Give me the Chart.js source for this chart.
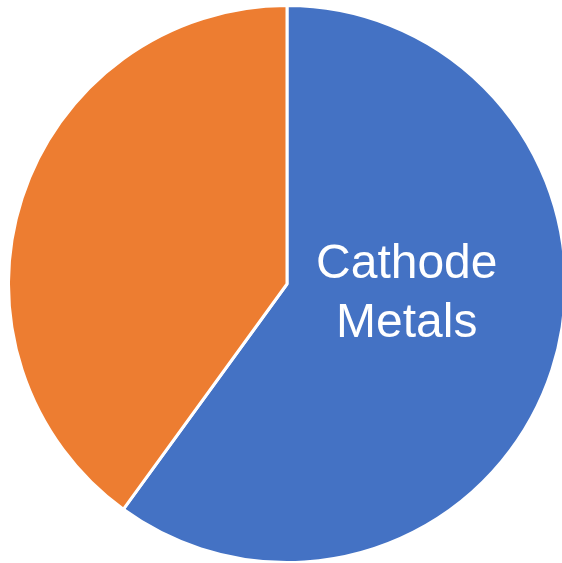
<!DOCTYPE html>
<html>
<head>
<meta charset="utf-8">
<script src="https://cdn.jsdelivr.net/npm/chart.js@4"></script>
<style>
  html, body { margin: 0; padding: 0; background: #fff; overflow: hidden; width: 562px; height: 563px; }
  #wrap { position: absolute; left: 7px; top: 4px; width: 560px; height: 560px; }
</style>
</head>
<body>
<div id="wrap"><canvas id="pieChartID"></canvas></div>
<script>
var labels = ['Cathode Metals', 'Other'];
var values = [60, 40];
var colors = ['#4472C4', '#ED7D31'];

// white text on the blue slice, two lines like the original
var sliceLabel = {
    id: 'sliceLabel',
    afterDatasetsDraw: function(chart) {
        var arc = chart.getDatasetMeta(0).data[0];
        var r = arc.outerRadius;
        var ctx = chart.ctx;
        var x = arc.x + r * 0.43;
        var y = arc.y;
        ctx.save();
        ctx.fillStyle = '#ffffff';
        ctx.font = '48px "Liberation Sans", Arial, sans-serif';
        ctx.textAlign = 'center';
        ctx.textBaseline = 'alphabetic';
        ctx.fillText('Cathode', x, y - 6);
        ctx.fillText('Metals', x, y + 53);
        ctx.restore();
    }
};

var piChart = new Chart(document.getElementById('pieChartID'), {
    type: 'pie',
    data: {
        labels: labels,
        datasets: [{
            data: values,
            backgroundColor: colors,
            borderColor: '#ffffff',
            borderWidth: 3
        }]
    },
    options: {
        responsive: true,
        maintainAspectRatio: false,
        animation: false,
        layout: { padding: 0 },
        plugins: {
            legend: { display: false },
            tooltip: { enabled: false }
        }
    },
    plugins: [sliceLabel]
});
</script>
</body>
</html>
